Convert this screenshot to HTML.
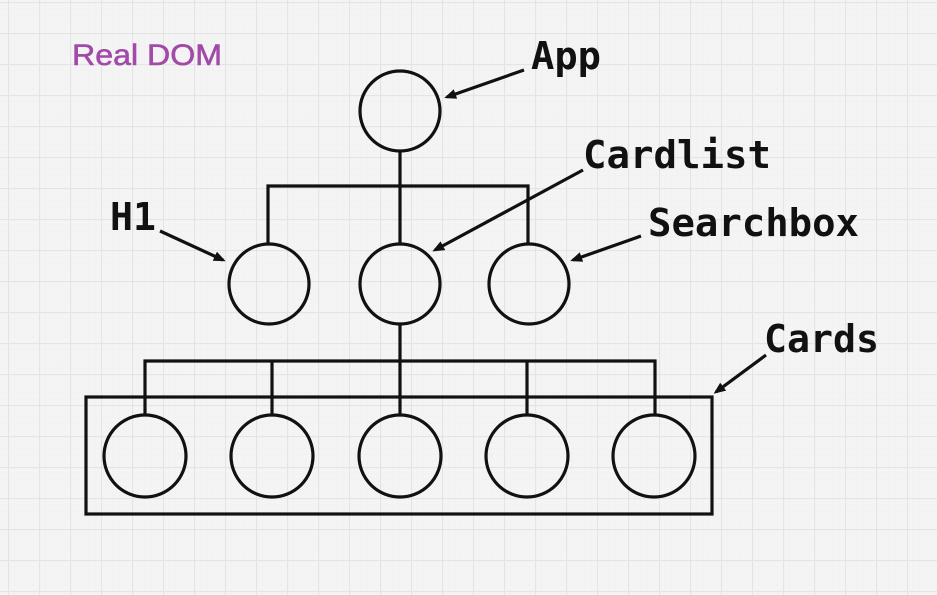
<!DOCTYPE html>
<html><head><meta charset="utf-8"><style>
html,body{margin:0;padding:0;}
body{width:937px;height:595px;overflow:hidden;background:#f4f4f4;}
svg{display:block;}
.t{font-family:"DejaVu Sans Mono","Liberation Mono",monospace;font-weight:bold;fill:#111;}
</style></head><body>
<svg width="937" height="595" xmlns="http://www.w3.org/2000/svg">
<defs>
<pattern id="fine" width="6.2" height="6.2" patternUnits="userSpaceOnUse" x="8" y="2">
<path d="M0 0H6.2M0 0V6.2" stroke="#ededed" stroke-width="0.5" fill="none"/></pattern>
<pattern id="major" width="31" height="31" patternUnits="userSpaceOnUse" x="8" y="2">
<path d="M0 0.5H31M0.5 0V31" stroke="#e4e4e4" stroke-width="1.2" fill="none"/></pattern>
<marker id="ah" markerWidth="12" markerHeight="12" refX="9" refY="6" orient="auto" markerUnits="userSpaceOnUse" viewBox="0 0 12 12">
<path d="M0 1L12 6L0 11z" fill="#111"/></marker>
</defs>
<rect width="937" height="595" fill="#f4f4f4"/>
<rect width="937" height="595" fill="url(#fine)"/>
<rect width="937" height="595" fill="url(#major)"/>
<text x="72" y="65" font-family="Liberation Sans, DejaVu Sans, sans-serif" font-size="30" fill="#a24aa8" stroke="#a24aa8" stroke-width="0.6" textLength="150" lengthAdjust="spacingAndGlyphs">Real DOM</text>
<g stroke="#111" stroke-width="3.2" fill="none">
<circle cx="400" cy="111" r="40"/>
<line x1="400" y1="151" x2="400" y2="244"/>
<polyline points="268,244 268,186 528,186 528,244"/>
<circle cx="269" cy="284" r="40"/>
<circle cx="400" cy="284" r="40"/>
<circle cx="529" cy="284" r="40"/>
<line x1="400" y1="324" x2="400" y2="415"/>
<polyline points="145,415 145,361 655,361 655,415"/>
<line x1="272" y1="361" x2="272" y2="415"/>
<line x1="527" y1="361" x2="527" y2="415"/>
<rect x="86" y="397" width="626" height="117"/>
<circle cx="145" cy="456" r="41"/>
<circle cx="272" cy="456" r="41"/>
<circle cx="400" cy="456" r="41"/>
<circle cx="527" cy="456" r="41"/>
<circle cx="654" cy="456" r="41"/>
</g>
<g stroke="#111" stroke-width="3.2" marker-end="url(#ah)">
<line x1="524" y1="70" x2="447" y2="97"/>
<line x1="583" y1="170" x2="435" y2="250"/>
<line x1="641" y1="236" x2="573" y2="260"/>
<line x1="160" y1="231" x2="223" y2="260"/>
<line x1="766" y1="355" x2="716" y2="392"/>
</g>
<text class="t" x="531" y="69" font-size="38" textLength="70" lengthAdjust="spacingAndGlyphs">App</text>
<text class="t" x="583" y="168" font-size="38" textLength="188" lengthAdjust="spacingAndGlyphs">Cardlist</text>
<text class="t" x="648" y="236" font-size="38" textLength="211" lengthAdjust="spacingAndGlyphs">Searchbox</text>
<text class="t" x="110" y="230" font-size="38" textLength="46" lengthAdjust="spacingAndGlyphs">H1</text>
<text class="t" x="764" y="352" font-size="38" textLength="115" lengthAdjust="spacingAndGlyphs">Cards</text>
</svg>
</body></html>
